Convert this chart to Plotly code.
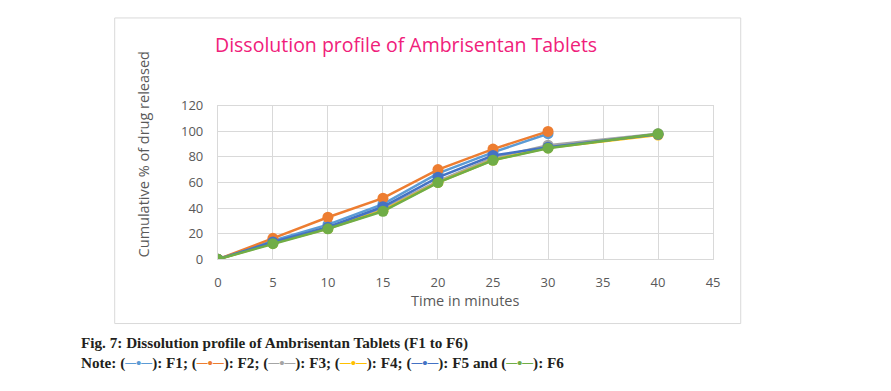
import plotly.graph_objects as go

# Figure is sized to fit inside the page body (8px default margin)
W, H = 875, 375
OFF = 8

time_short = [0, 5, 10, 15, 20, 25, 30]
time_long = [0, 5, 10, 15, 20, 25, 30, 40]

f1 = [0, 14.5, 27, 43, 67, 83.5, 98]
f2 = [0, 16.4, 32.8, 47.7, 70, 86, 99.8]
f3 = [0, 13, 25, 39.5, 61, 79, 89, 98]
f4 = [0, 12.5, 24, 38, 60, 77.5, 87, 97]
f5 = [0, 13.5, 25, 41, 64, 81, 87.5, 97.5]
f6 = [0, 12.2, 23.8, 37.5, 59.9, 77.3, 86.7, 97.9]

series_names = ["F1", "F2", "F3", "F4", "F5", "F6"]
series_x = [time_short, time_short, time_long, time_long, time_long, time_long]
series_y = [f1, f2, f3, f4, f5, f6]
colors = ["#5B9BD5", "#ED7D31", "#A5A5A5", "#FFC000", "#4472C4", "#70AD47"]

x_ticks = [0, 5, 10, 15, 20, 25, 30, 35, 40, 45]
y_ticks = [0, 20, 40, 60, 80, 100, 120]

fig = go.Figure()
for name, xs, ys, c in zip(series_names, series_x, series_y, colors):
    fig.add_trace(go.Scatter(
        x=xs, y=ys, name=name, mode="lines+markers",
        line=dict(color=c, width=2.5),
        marker=dict(color=c, size=11, symbol="circle"),
        showlegend=False,
    ))

def px(x):
    return (x - OFF) / W

def py(y):
    return 1 - (y - OFF) / H

grid = "#D9D9D9"
sans = "Open Sans, Liberation Sans, sans-serif"
serif = "Liberation Serif, Times New Roman, serif"
tickfont = dict(family=sans, size=13, color="#595959")

fig.update_layout(
    width=W, height=H,
    margin=dict(l=0, r=0, t=0, b=0),
    paper_bgcolor="white", plot_bgcolor="white",
    xaxis=dict(
        domain=[px(216.5), px(718)], range=[0, 45], tickvals=x_ticks,
        showgrid=True, gridcolor=grid, gridwidth=1, zeroline=False,
        showline=True, linecolor=grid, mirror=True,
        tickfont=tickfont, ticks="outside", ticklen=11, tickcolor="rgba(0,0,0,0)",
    ),
    yaxis=dict(
        domain=[py(262.5), py(101)], range=[0, 120], tickvals=y_ticks,
        showgrid=True, gridcolor=grid, gridwidth=1, zeroline=False,
        showline=True, linecolor=grid, mirror=True,
        tickfont=tickfont, ticks="outside", ticklen=11, tickcolor="rgba(0,0,0,0)",
    ),
    shapes=[dict(
        type="rect", xref="paper", yref="paper",
        x0=px(112), x1=px(746), y0=py(330), y1=py(9),
        line=dict(color=grid, width=1), fillcolor="rgba(0,0,0,0)", layer="below",
    )],
)

ann = []
ann.append(dict(
    text="Dissolution profile of Ambrisentan Tablets",
    x=px(407.5), y=py(37), xref="paper", yref="paper",
    showarrow=False, xanchor="center", yanchor="middle",
    font=dict(family=sans, size=19.5, color="#F0207A"),
))
ann.append(dict(
    text="Cumulative % of drug released",
    x=px(141.5), y=py(152.5), xref="paper", yref="paper",
    showarrow=False, textangle=-90, xanchor="center", yanchor="middle",
    font=dict(family=sans, size=14.5, color="#595959"),
))
ann.append(dict(
    text="Time in minutes",
    x=px(466.7), y=py(306), xref="paper", yref="paper",
    showarrow=False, xanchor="center", yanchor="middle",
    font=dict(family=sans, size=14.5, color="#595959"),
))
ann.append(dict(
    text="<b>Fig. 7: Dissolution profile of Ambrisentan Tablets (F1 to F6)</b>",
    x=px(76), y=py(350), xref="paper", yref="paper",
    showarrow=False, xanchor="left", yanchor="middle",
    font=dict(family=serif, size=15.2, color="#231F20"),
))

def sym(c):
    return "(<span style='color:%s'>─•─</span>)" % c

note = ("<b>Note: %s: F1; %s: F2; %s: F3; %s: F4; %s: F5 and %s: F6</b>"
        % tuple(sym(c) for c in colors))
ann.append(dict(
    text=note,
    x=px(76), y=py(371), xref="paper", yref="paper",
    showarrow=False, xanchor="left", yanchor="middle",
    font=dict(family=serif, size=15.2, color="#231F20"),
))
fig.update_layout(annotations=ann)

fig.write_html("out.html")
